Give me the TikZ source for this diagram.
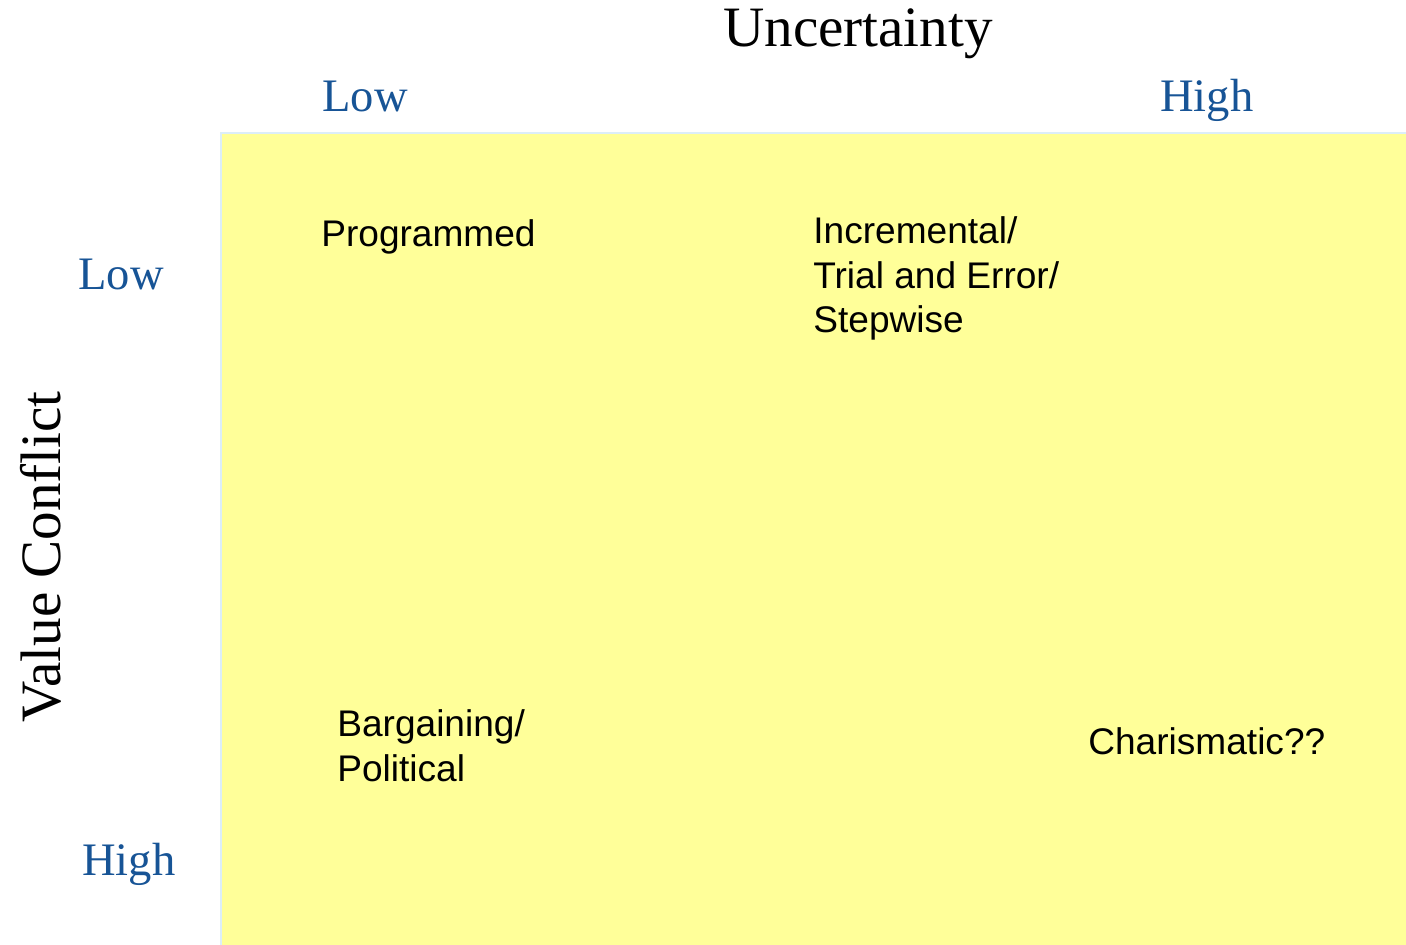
\documentclass[tikz,border=0pt]{standalone}
\usepackage{fontspec}
\setmainfont{Liberation Serif}
\newfontfamily\cellfont{Liberation Sans}
\usepackage{tikz}
\usetikzlibrary{positioning}
\definecolor{cellyellow}{RGB}{255,255,153}
\definecolor{edgeblue}{RGB}{220,238,248}
\definecolor{levelblue}{RGB}{23,84,150}
\tikzset{
  axis/.style={inner sep=0pt, anchor=base, font=\fontsize{32.5}{38}\selectfont},
  level/.style={inner sep=0pt, anchor=base west, text=levelblue, font=\fontsize{26.5}{30}\selectfont},
  cell/.style={inner sep=0pt, anchor=base west, align=left, font=\cellfont\fontsize{21.1}{25.4}\selectfont}
}

\begin{document}
\begin{tikzpicture}[x=0.02cm, y=-0.02cm]
\useasboundingbox [fill=white] (0,0) rectangle (1406,945);
\draw [edgeblue, line width=1.5pt, fill=cellyellow] (221,133) rectangle (1410,950);
\node [axis] (uncert) at (858,47) {Uncertainty};
\node [axis, rotate=90] (valconf) at (60,557) {Value Conflict};
\node [level] (ulow) at (322,112) {Low};
\node [level] (uhigh) at (1160,112) {High};
\node [level] (vlow) at (78,290) {Low};
\node [level] (vhigh) at (82,875) {High};
\node [cell] (prog) at (321,247) {Programmed};
\node [cell] (incr) at (813,333) {Incremental/\\Trial and Error/\\Stepwise};
\node [cell] (barg) at (337,781) {Bargaining/\\Political};
\node [cell] (charis) at (1088,754) {Charismatic??};
\end{tikzpicture}
\end{document}
